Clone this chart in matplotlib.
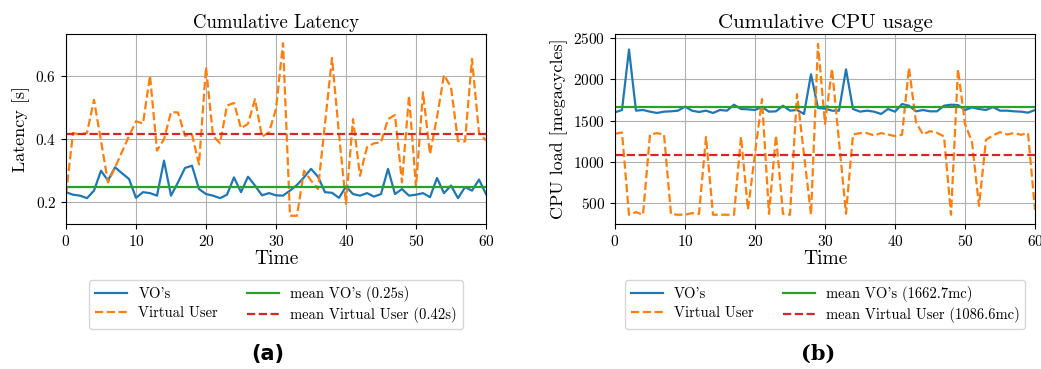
import numpy as np
import matplotlib
matplotlib.use("Agg")
import matplotlib.pyplot as plt

plt.rcParams['font.family'] = 'cmr10'
plt.rcParams['mathtext.fontset'] = 'cm'
plt.rcParams['axes.formatter.use_mathtext'] = True

# time steps
t = np.arange(0, 61)

# latency [s]
lat_vo = [0.232, 0.224, 0.221, 0.213, 0.237, 0.300, 0.269, 0.311, 0.292, 0.274, 0.214,
          0.232, 0.229, 0.221, 0.332, 0.221, 0.263, 0.309, 0.316, 0.242, 0.226,
          0.221, 0.213, 0.224, 0.279, 0.232, 0.281, 0.253, 0.222, 0.229, 0.222,
          0.221, 0.237, 0.255, 0.279, 0.306, 0.281, 0.232, 0.230, 0.214, 0.250,
          0.226, 0.221, 0.229, 0.218, 0.226, 0.306, 0.226, 0.242, 0.221, 0.224,
          0.229, 0.216, 0.277, 0.229, 0.253, 0.213, 0.248, 0.237, 0.272, 0.226]
lat_vu = [0.225, 0.420, 0.415, 0.420, 0.525, 0.395, 0.263, 0.310, 0.360, 0.410, 0.457,
          0.450, 0.602, 0.364, 0.400, 0.486, 0.485, 0.411, 0.415, 0.320, 0.629,
          0.411, 0.387, 0.507, 0.515, 0.435, 0.449, 0.527, 0.408, 0.422, 0.496,
          0.705, 0.157, 0.157, 0.300, 0.269, 0.242, 0.450, 0.658, 0.417, 0.195,
          0.464, 0.284, 0.375, 0.387, 0.390, 0.464, 0.477, 0.263, 0.538, 0.248,
          0.549, 0.353, 0.470, 0.604, 0.565, 0.394, 0.393, 0.655, 0.420, 0.396]
lat_mean_vo = 0.247
lat_mean_vu = 0.418

# CPU load [megacycles]
cpu_vo = [1600, 1628, 2360, 1620, 1628, 1608, 1592, 1608, 1612, 1620, 1668,
          1620, 1604, 1620, 1592, 1628, 1620, 1692, 1640, 1636, 1628,
          1664, 1608, 1612, 1680, 1620, 1628, 1580, 2060, 1652, 1644,
          1620, 1620, 2120, 1640, 1608, 1620, 1608, 1580, 1640, 1608,
          1700, 1680, 1612, 1628, 1612, 1612, 1680, 1692, 1688, 1628,
          1660, 1640, 1628, 1664, 1620, 1620, 1612, 1608, 1596, 1628]
cpu_vu = [1340, 1356, 360, 392, 360, 1332, 1348, 1332, 368, 360, 360,
          380, 370, 1300, 360, 360, 360, 360, 1304, 420, 1100,
          1760, 370, 1320, 370, 360, 1820, 1090, 360, 2428, 1460,
          2128, 1250, 372, 1332, 1348, 1348, 1320, 1348, 1332, 1312,
          1328, 2140, 1480, 1332, 1372, 1352, 1308, 360, 2120, 1460,
          1240, 468, 1268, 1320, 1360, 1332, 1348, 1328, 1348, 420]
cpu_mean_vo = 1662.7
cpu_mean_vu = 1086.6


def draw_panel(ax, vo, vu, mean_vo, mean_vu, unit, fmt, title, title_size,
               ylabel, ylim):
    ax.plot(t, vo, '-', color='tab:blue', lw=1.6, label="VO's")
    ax.plot(t, vu, '--', color='tab:orange', lw=1.6, label='Virtual User')
    ax.axhline(mean_vo, color='tab:green', lw=1.6,
               label=("mean VO's (" + fmt + unit + ")") % mean_vo)
    ax.axhline(mean_vu, color='tab:red', ls='--', lw=1.6,
               label=("mean Virtual User (" + fmt + unit + ")") % mean_vu)
    ax.set_xlim(0, 60)
    ax.set_ylim(*ylim)
    ax.set_xticks(np.arange(0, 61, 10))
    ax.grid(True, color='#b0b0b0', lw=0.8)
    ax.set_title(title, fontsize=title_size, pad=4)
    ax.set_xlabel('Time', fontsize=14, labelpad=1)
    ax.set_ylabel(ylabel, fontsize=13, labelpad=4)
    ax.tick_params(labelsize=11)
    ax.legend(loc='upper center', bbox_to_anchor=(0.5, -0.295), ncol=2,
              borderaxespad=0, fontsize=10.5, columnspacing=2.0,
              handlelength=2.2, handletextpad=0.75,
              borderpad=0.4, labelspacing=0.37)


fig = plt.figure(figsize=(10.41, 3.69), dpi=100)
ax1 = fig.add_axes([66 / 1041, 1 - 224 / 369, 420 / 1041, 190 / 369])
ax2 = fig.add_axes([615 / 1041, 1 - 224 / 369, 420 / 1041, 190 / 369])

draw_panel(ax1, lat_vo, lat_vu, lat_mean_vo, lat_mean_vu, 's', '%.2f',
           'Cumulative Latency', 13.5, 'Latency [s]', (0.131, 0.734))
ax1.set_yticks([0.2, 0.4, 0.6])

draw_panel(ax2, cpu_vo, cpu_vu, cpu_mean_vo, cpu_mean_vu, 'mc', '%.1f',
           'Cumulative CPU usage', 15, 'CPU load [megacycles]', (248, 2548))
ax2.set_yticks([500, 1000, 1500, 2000, 2500])

fig.text(268 / 1041, 1 - 354 / 369, '(a)', ha='center', va='center',
         fontsize=15, fontweight='bold', family='DejaVu Sans')
fig.text(818 / 1041, 1 - 354 / 369, '(b)', ha='center', va='center',
         fontsize=15, fontweight='bold', family='DejaVu Serif')

fig.savefig('out.png', dpi=100)
